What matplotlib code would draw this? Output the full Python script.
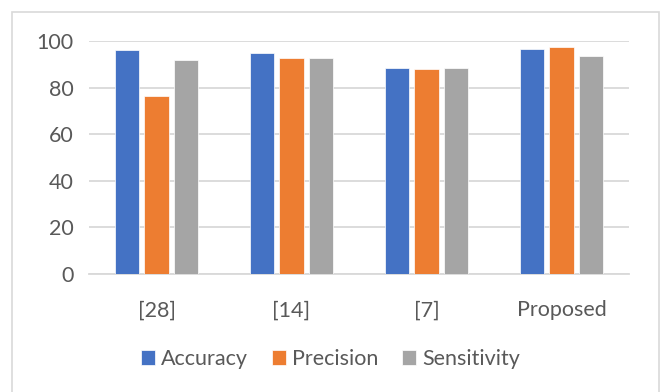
import numpy as np
import matplotlib.pyplot as plt
from matplotlib.patches import Rectangle

categories = ["[28]", "[14]", "[7]", "Proposed"]
accuracy = [96.1, 94.9, 88.3, 96.4]
precision = [76.4, 92.9, 88.0, 97.6]
sensitivity = [91.7, 92.9, 88.6, 93.7]

series = [("Accuracy", accuracy, "#4472C4"),
          ("Precision", precision, "#ED7D31"),
          ("Sensitivity", sensitivity, "#A5A5A5")]

plt.rcParams["font.family"] = ["Lato", "DejaVu Sans"]
text_col = "#595959"

fig = plt.figure(figsize=(6.61, 3.92), dpi=100)
# light chart border
fig.patches.append(Rectangle((12 / 661, -0.05), 647 / 661, 1 - 12 / 392 + 0.05,
                             transform=fig.transFigure, fill=False,
                             edgecolor="#D9D9D9", linewidth=1.2))

ax = fig.add_axes([89 / 661, 1 - 274 / 392, 540 / 661, 233 / 392])

x = np.arange(len(categories))
w = 0.178
offsets = [-0.222, 0, 0.222]
for (name, vals, col), off in zip(series, offsets):
    ax.bar(x + off, vals, w, color=col, label=name, edgecolor="white",
           linewidth=0.5, zorder=3)

ax.set_xlim(-0.5, len(categories) - 0.5)
ax.set_ylim(0, 100)
ax.set_yticks(range(0, 101, 20))
ax.yaxis.grid(True, color="#D9D9D9", linewidth=1.3, zorder=0)
ax.set_xticks(x)
ax.set_xticklabels(categories)
ax.tick_params(axis="both", length=0, colors=text_col, labelsize=15.5)
ax.tick_params(axis="x", pad=19)
ax.tick_params(axis="y", pad=11)
for s in ["top", "right", "left"]:
    ax.spines[s].set_visible(False)
ax.spines["bottom"].set_color("#D9D9D9")
ax.spines["bottom"].set_linewidth(1.3)

leg = fig.legend(loc="center", bbox_to_anchor=(0.5, 1 - 359 / 392), ncol=3,
                 frameon=False, fontsize=15.5, handlelength=0.65, handleheight=0.65,
                 handletextpad=0.3, columnspacing=1.1)
for t in leg.get_texts():
    t.set_color(text_col)

fig.savefig("out.png", dpi=100)
